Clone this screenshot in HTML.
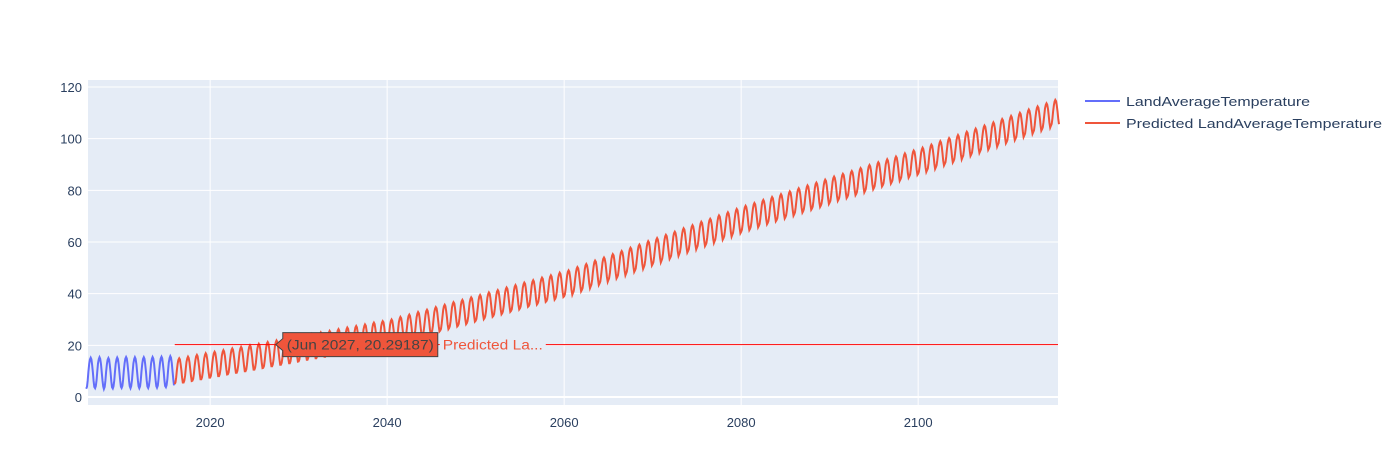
<!DOCTYPE html>
<html><head><meta charset="utf-8"><style>
body{margin:0;background:#fff;font-family:"Liberation Sans",sans-serif;}
svg text{font-family:"Liberation Sans",sans-serif;}
</style></head><body>
<svg id="chart" width="1399" height="457" xmlns="http://www.w3.org/2000/svg">
<rect x="0" y="0" width="1399" height="457" fill="#fff"/>
<rect x="88" y="80" width="970" height="325" fill="#e5ecf6"/>
<g id="grid"></g><g id="series"></g><g id="axes"></g>
<g>
<g>
<line x1="1085" y1="101" x2="1120" y2="101" stroke="#636efa" stroke-width="2"/>
<text x="1126" y="106" font-size="13" fill="#2a3f5f" textLength="184" lengthAdjust="spacingAndGlyphs">LandAverageTemperature</text></g>
<g>
<line x1="1085" y1="123" x2="1120" y2="123" stroke="#ef553b" stroke-width="2"/>
<text x="1126" y="128" font-size="13" fill="#2a3f5f" textLength="256" lengthAdjust="spacingAndGlyphs">Predicted LandAverageTemperature</text></g>
</g>
<g id="hover"></g>
</svg>
<script>
const actualYears=[2006,2007,2008,2009,2010,2011,2012,2013,2014,2015];
const actualMeans=[9.2,9.4,9.1,9.3,9.5,9.4,9.4,9.5,9.6,9.8];
const actualSeasonal=[-6,-5.2,-2.8,0.6,3.6,5.3,6,5.4,3.3,0.3,-3,-5.3];
const predYears=[];for(let y=2016;y<=2115;y++)predYears.push(y);
const predMeans=[10,10.6,11.3,11.9,12.5,13.1,13.8,14.4,15,15.6,16.3,16.9,17.5,18.1,18.8,19.4,20,20.6,21.3,21.9,22.5,23.1,23.8,24.4,25,
26,26.9,27.9,28.8,29.8,30.7,31.7,32.6,33.6,34.5,35.5,36.4,37.4,38.3,39.3,40.2,41.2,42.1,43.1,44,
45.3,46.5,47.8,49,50.3,51.5,52.8,54,55.3,56.5,57.8,59,60.3,61.5,62.8,64,65.3,66.5,67.8,69,
70.1,71.3,72.4,73.5,74.6,75.8,76.9,78,79.1,80.3,81.4,82.5,83.6,84.8,85.9,87,88.1,89.3,90.4,91.5,
92.7,94,95.2,96.4,97.7,98.9,100.1,101.3,102.6,103.8,105,106.3,107.5,108.7,110];
const predSeasonal=[-5,-4.3,-2.3,0.5,3,4.4,5,4.5,2.8,0.3,-2.5,-4.4];
const yTicks=[0,20,40,60,80,100,120];
const xTicks=[2020,2040,2060,2080,2100];
const hoverPoint={label:"(Jun 2027, 20.29187)",year:2027+5/12,value:20.29187};
const NS="http://www.w3.org/2000/svg";
const X0=88,X1=1058,xmin=2006.2,xmax=2115.8;
const xs=t=>X0+(t-xmin)/(xmax-xmin)*(X1-X0);
const ys=v=>397-v*(310/120);
function mk(tag,attrs,parent){const e=document.createElementNS(NS,tag);for(const k in attrs)e.setAttribute(k,attrs[k]);parent.appendChild(e);return e;}
const grid=document.getElementById('grid'),axes=document.getElementById('axes'),ser=document.getElementById('series');
yTicks.forEach(v=>{const l=mk('line',{x1:X0,x2:X1,y1:ys(v),y2:ys(v),stroke:'#fff','stroke-width':v===0?2:1},grid);


const t=mk('text',{x:82,y:ys(v)+5,'text-anchor':'end','font-size':13,fill:'#2a3f5f'},axes);t.textContent=v;

});
xTicks.forEach(v=>{const l=mk('line',{x1:xs(v),x2:xs(v),y1:80,y2:405,stroke:'#fff','stroke-width':1},grid);


const t=mk('text',{x:xs(v),y:427,'text-anchor':'middle','font-size':13,fill:'#2a3f5f'},axes);t.textContent=v;

});
function series(years,means,seas,color,name){let pts=[];years.forEach((y,i)=>{for(let m=0;m<12;m++)pts.push(xs(y+m/12).toFixed(1)+','+ys(means[i]+seas[m]).toFixed(1));});
const p=mk('polyline',{points:pts.join(' '),fill:'none',stroke:color,'stroke-width':2},ser);

}
series(actualYears,actualMeans,actualSeasonal,'#636efa','actual-temperature-line');
series(predYears,predMeans,predSeasonal,'#ef553b','predicted-temperature-line');
const hv=document.getElementById('hover');
const hy=ys(hoverPoint.value),hx=xs(hoverPoint.year);
const sp=mk('line',{x1:xs(predYears[0]),x2:X1,y1:hy,y2:hy,stroke:'#ff0000','stroke-width':1},hv);


const bx=hx+7;
const bp=mk('path',{d:`M${hx},${hy} L${bx},${hy-6} L${bx},${hy-12} L${bx+155},${hy-12} L${bx+155},${hy+12} L${bx},${hy+12} L${bx},${hy+6} Z`,fill:'#ef553b',stroke:'#444','stroke-width':1},hv);


const ht=mk('text',{x:bx+4,y:hy+5,'font-size':14,fill:'#444',textLength:147,lengthAdjust:'spacingAndGlyphs'},hv);ht.textContent=hoverPoint.label;


const hb=mk('rect',{x:bx+157,y:hy-9,width:106,height:18,fill:'#e5ecf6'},hv);


const hn=mk('text',{x:bx+160,y:hy+5,'font-size':14,fill:'#ef553b',textLength:100,lengthAdjust:'spacingAndGlyphs'},hv);hn.textContent="Predicted La...";


</script>
</body></html>
